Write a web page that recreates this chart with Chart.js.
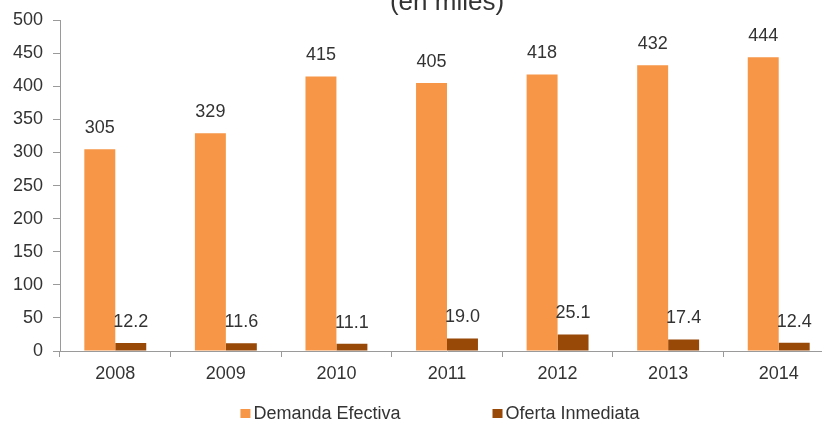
<!DOCTYPE html>
<html>
<head>
<meta charset="utf-8">
<script src="https://cdn.jsdelivr.net/npm/chart.js@4/dist/chart.umd.min.js"></script>
<style>
  html, body { margin: 0; padding: 0; width: 822px; height: 424px; overflow: hidden; background: #fff; }
  #wrap { position: absolute; left: 0; top: -13px; }
</style>
</head>
<body>
<div id="wrap"><canvas id="chart" width="840" height="437"></canvas></div>
<script>
// Years on the category axis
const years = ['2008', '2009', '2010', '2011', '2012', '2013', '2014'];
// Effective demand (thousands)
const demandaEfectiva = [305, 329, 415, 405, 418, 432, 444];
// Immediate supply (thousands)
const ofertaInmediata = [12.2, 11.6, 11.1, 19.0, 25.1, 17.4, 12.4];
// Series names
const seriesNames = ['Demanda Efectiva', 'Oferta Inmediata'];
// Decimals shown in each series' value labels
const labelDecimals = [0, 1];

const FONT = '"Liberation Sans", Arial, sans-serif';
const TEXT = '#333333';
const AXIS = '#9a9a9a';

// Value labels above every bar
const valueLabels = {
  id: 'valueLabels',
  afterDatasetsDraw(chart) {
    const ctx = chart.ctx;
    ctx.save();
    ctx.font = '18px ' + FONT;
    ctx.fillStyle = TEXT;
    ctx.textAlign = 'center';
    ctx.textBaseline = 'middle';
    chart.data.datasets.forEach((ds, i) => {
      const meta = chart.getDatasetMeta(i);
      meta.data.forEach((bar, j) => {
        ctx.fillText(ds.data[j].toFixed(labelDecimals[i]), bar.x, bar.y - 21);
      });
    });
    ctx.restore();
  }
};

// Legend row below the axis
const bottomLegend = {
  id: 'bottomLegend',
  afterDraw(chart) {
    const ctx = chart.ctx;
    const box = 10, gap = 3, spacing = 92;
    ctx.save();
    ctx.font = '18px ' + FONT;
    ctx.textBaseline = 'middle';
    ctx.textAlign = 'left';
    const items = chart.data.datasets.map(ds => ({
      text: ds.label, color: ds.backgroundColor,
      w: box + gap + ctx.measureText(ds.label).width
    }));
    const total = items.reduce((s, it) => s + it.w, 0) + spacing * (items.length - 1);
    const area = chart.chartArea;
    let x = (area.left + area.right) / 2 - 7 - total / 2;
    const y = chart.height - 10;
    items.forEach(it => {
      ctx.fillStyle = it.color;
      ctx.fillRect(x, y - box / 2, box, box - 1);
      ctx.fillStyle = TEXT;
      ctx.fillText(it.text, x + box + gap, y);
      x += it.w + spacing;
    });
    ctx.restore();
  }
};

new Chart(document.getElementById('chart'), {
  type: 'bar',
  data: {
    labels: years,
    datasets: [
      { label: seriesNames[0], data: demandaEfectiva, backgroundColor: '#F79646',
        categoryPercentage: 0.56, barPercentage: 1.0 },
      { label: seriesNames[1], data: ofertaInmediata, backgroundColor: '#984807',
        categoryPercentage: 0.56, barPercentage: 1.0 }
    ]
  },
  options: {
    responsive: false,
    devicePixelRatio: 1,
    animation: false,
    layout: { padding: { left: 0, right: 6, top: 0, bottom: 33 } },
    plugins: {
      legend: { display: false },
      tooltip: { enabled: false },
      title: {
        display: true,
        text: '(en miles)',
        fullSize: false,
        color: TEXT,
        font: { family: FONT, size: 26, weight: 'normal' },
        padding: { top: 0, bottom: 2 }
      }
    },
    scales: {
      x: {
        offset: true,
        afterFit(scale) { scale.height = 40; },
        border: { display: true, color: AXIS, width: 1 },
        grid: { offset: true, drawOnChartArea: false, drawTicks: true, tickLength: 6, color: AXIS },
        ticks: { color: TEXT, font: { family: FONT, size: 18 }, padding: 6, maxRotation: 0 }
      },
      y: {
        min: 0, max: 500,
        afterFit(scale) { scale.width = 60; },
        border: { display: true, color: AXIS, width: 1 },
        grid: { drawOnChartArea: false, drawTicks: true, tickLength: 7, color: AXIS },
        ticks: { stepSize: 50, color: TEXT, font: { family: FONT, size: 18 }, padding: 10 }
      }
    }
  },
  plugins: [valueLabels, bottomLegend]
});
</script>
</body>
</html>
